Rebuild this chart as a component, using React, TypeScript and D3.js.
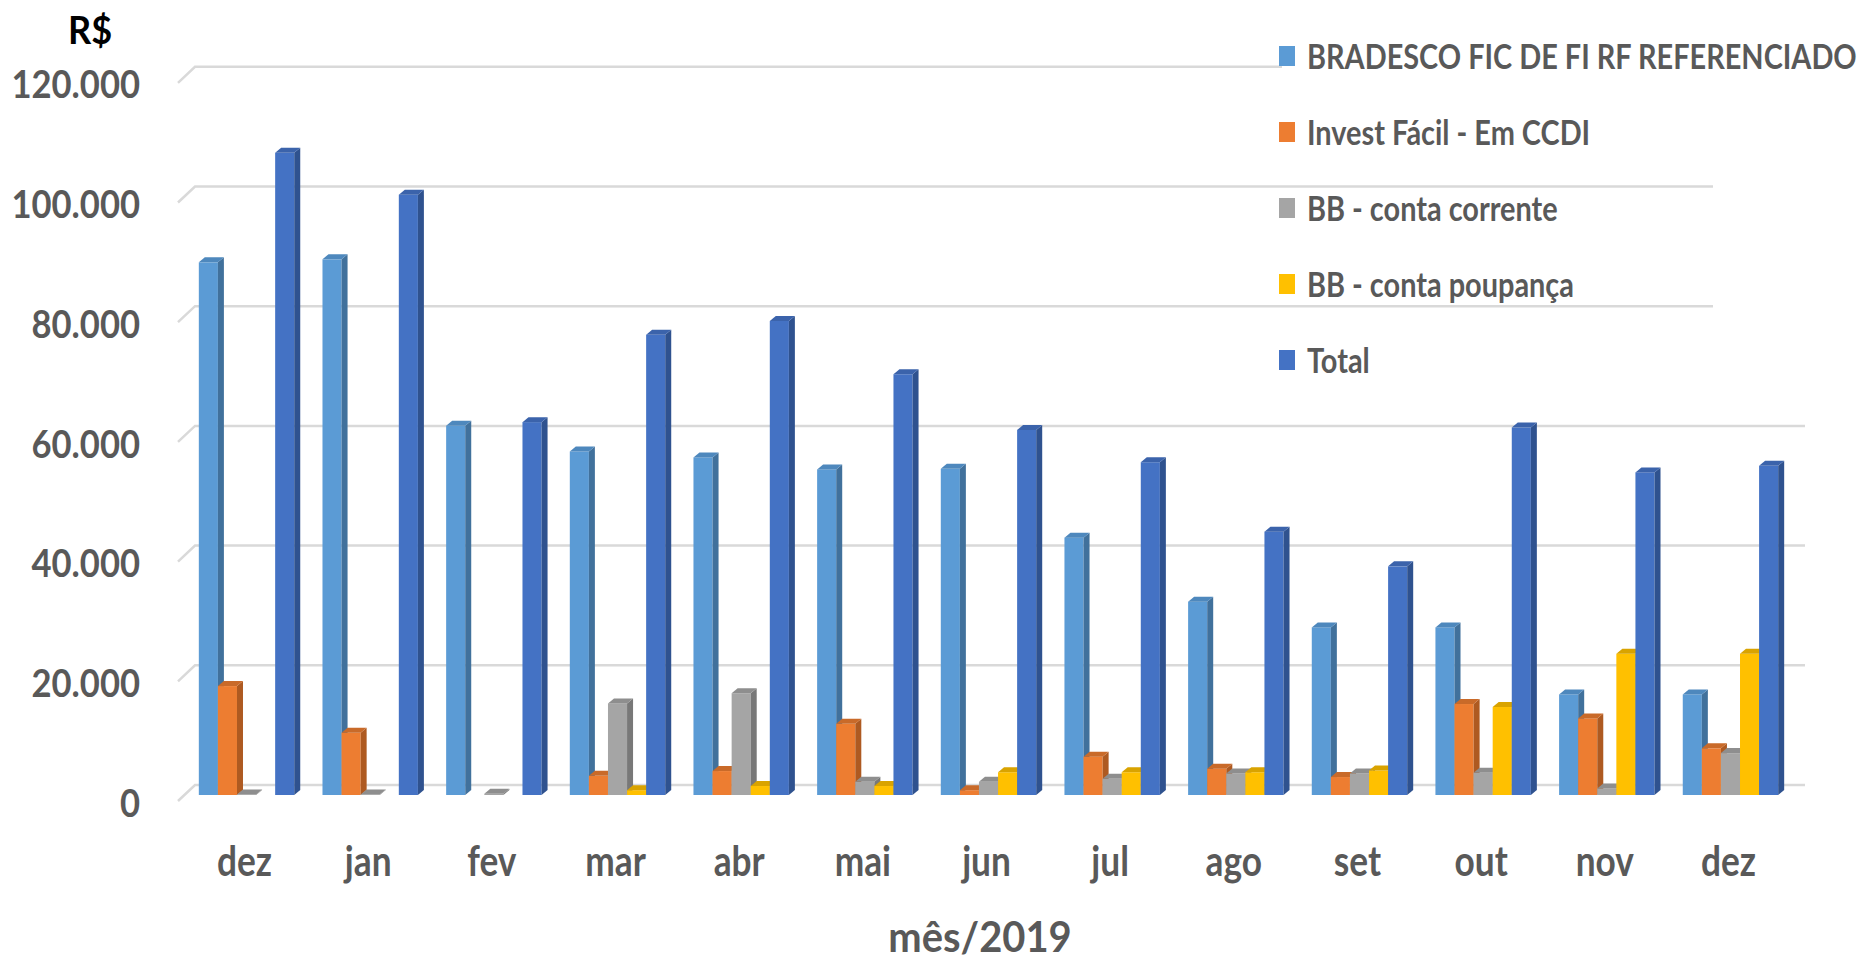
import * as d3 from 'd3';

const months = ['dez', 'jan', 'fev', 'mar', 'abr', 'mai', 'jun', 'jul', 'ago', 'set', 'out', 'nov', 'dez'];

const seriesNames = [
  'BRADESCO FIC DE FI RF REFERENCIADO',
  'Invest Fácil - Em CCDI',
  'BB - conta corrente',
  'BB - conta poupança',
  'Total'
];

const bradesco = [89000, 89500, 61700, 57400, 56400, 54400, 54500, 43000, 32300, 28000, 28000, 16800, 16800];
const investFacil = [18200, 10400, 0, 3200, 4000, 11900, 800, 6400, 4400, 3000, 15200, 12800, 7800];
const bbCorrente = [100, 100, 200, 15300, 17000, 2200, 2200, 2700, 3600, 3600, 3700, 1100, 7000];
const bbPoupanca = [0, 0, 0, 800, 1500, 1500, 3800, 3800, 3800, 4100, 14700, 23600, 23600];
const total = [107300, 100300, 62300, 76900, 79200, 70300, 61000, 55600, 44000, 38200, 61400, 53900, 55000];

const yTicks = [0, 20000, 40000, 60000, 80000, 100000, 120000];

const frontColors = ['#5b9bd5', '#ed7d31', '#a5a5a5', '#ffc000', '#4472c4'];
const sideColors = ['#41719c', '#ae5a21', '#787878', '#bc8c00', '#2f528f'];
const topColors = ['#4e88bd', '#c96a29', '#8e8e8e', '#d9a300', '#3b63ab'];

const W = 1876;
const H = 963;
const depthX = 6;
const depthY = 5;

const ptBR = d3.formatLocale({ decimal: ',', thousands: '.', grouping: [3], currency: ['R$', ''] });
const fmt = ptBR.format(',d');

// horizontally squeezed text, the source picture is narrower than the font
function Txt({ x, y, size, sx = 0.82, anchor = 'middle', fill = '#595959', weight = 700, children, baseline }: any) {
  return (
    <text
      transform={`translate(${x},${y}) scale(${sx},1)`}
      textAnchor={anchor}
      fontSize={size}
      fontWeight={weight}
      fill={fill}
      dominantBaseline={baseline}
      fontFamily="Lato, 'Open Sans', sans-serif"
    >
      {children}
    </text>
  );
}

export default function App() {
  const values = [bradesco, investFacil, bbCorrente, bbPoupanca, total];

  const x0 = d3.scaleBand<number>().domain(d3.range(months.length)).range([184.7, 1792.3]);
  const x1 = d3.scaleBand<number>().domain(d3.range(seriesNames.length)).range([0, x0.bandwidth()]).paddingOuter(0.74);
  const yBack = d3.scaleLinear([0, 120000], [785, 66.8]);
  const yFront = d3.scaleLinear([0, 120000], [795, 76.8]);

  const gridLeft = 195;
  const gridRight = 1805;

  const base = yFront(0);

  return (
    <svg width={W} height={H} style={{ position: 'absolute', left: 0, top: 0, background: '#fff' }}>
      <rect width={W} height={H} fill="#fff" />
      <g fill="none" stroke="#d9d9d9" strokeWidth={2.5}>
        {yTicks.map((t) => (
          <path key={t} d={`M${gridLeft - 17},${yBack(t) + 16}L${gridLeft},${yBack(t)}L${gridRight},${yBack(t)}`} />
        ))}
      </g>
      <g>
        {yTicks.map((t) => (
          <Txt key={t} x={140} y={yBack(t) + 17} size={38} sx={0.91} anchor="end" baseline="central">
            {fmt(t)}
          </Txt>
        ))}
      </g>
      <Txt x={90} y={44} size={38} sx={0.95} fill="#000">R$</Txt>

      <g>
        {months.map((m, i) =>
          values.map((vals, s) => {
            const v = vals[i];
            if (!(v > 0)) return null;
            const x = (x0(i) as number) + (x1(s) as number);
            const w = x1.bandwidth();
            const yt = yFront(v);
            return (
              <g key={`${i}-${s}`}>
                <rect x={x} y={yt} width={w} height={base - yt} fill={frontColors[s]} />
                <polygon
                  points={`${x + w},${yt} ${x + w + depthX},${yt - depthY} ${x + w + depthX},${base - depthY} ${x + w},${base}`}
                  fill={sideColors[s]}
                />
                <polygon
                  points={`${x},${yt} ${x + depthX},${yt - depthY} ${x + w + depthX},${yt - depthY} ${x + w},${yt}`}
                  fill={topColors[s]}
                />
              </g>
            );
          })
        )}
      </g>

      <g>
        {months.map((m, i) => (
          <Txt key={i} x={(x0(i) as number) + x0.bandwidth() / 2 - 2} y={876} size={42} sx={0.84}>
            {m}
          </Txt>
        ))}
      </g>
      <Txt x={980} y={952} size={42} sx={0.95}>mês/2019</Txt>

      <g>
        <rect x={1713} y={30} width={W - 1713} height={320} fill="#fff" />
        <rect x={1282} y={40} width={W - 1282} height={32} fill="#fff" />
        {seriesNames.map((name, s) => {
          const cy = 56 + s * 76;
          return (
            <g key={name}>
              <rect x={1279} y={cy - 10} width={16} height={20} fill={frontColors[s]} />
              <Txt x={1307} y={cy} size={34} sx={0.85} anchor="start" baseline="central">
                {name}
              </Txt>
            </g>
          );
        })}
      </g>
    </svg>
  );
}
